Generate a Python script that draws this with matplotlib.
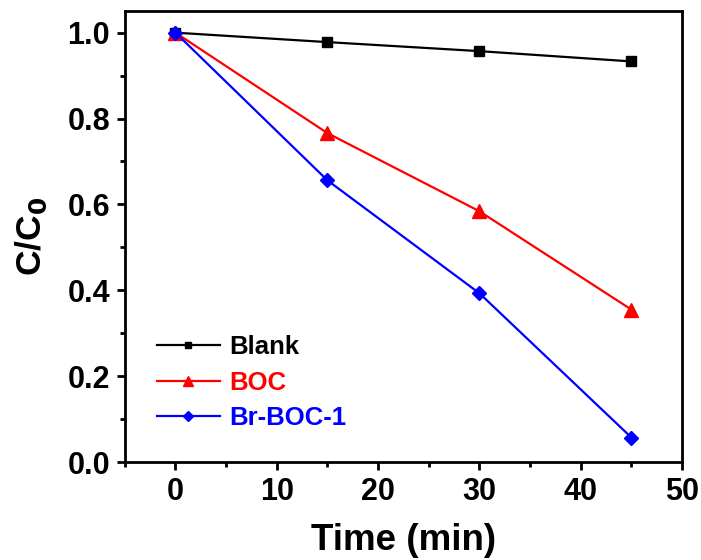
import numpy as np
import matplotlib.pyplot as plt

plt.rcParams['font.family'] = ['Liberation Sans', 'DejaVu Sans']
plt.rcParams['font.weight'] = 'bold'

# degradation data
czas = [0, 15, 30, 45]
blank = [1.0, 0.978, 0.957, 0.933]
boc = [1.0, 0.766, 0.584, 0.355]
br_boc = [1.0, 0.656, 0.393, 0.057]

fig = plt.figure(figsize=(7.01, 5.6), dpi=100)
ax = fig.add_axes([0.178, 0.175, 0.795, 0.805])

ax.plot(czas, blank, color='black', lw=1.6, marker='s', ms=7, label='Blank')
ax.plot(czas, boc, color='red', lw=1.6, marker='^', ms=10, label='BOC')
ax.plot(czas, br_boc, color='blue', lw=1.6, marker='D', ms=7.5, label='Br-BOC-1')

ax.set_xlim(-5, 50)
ax.set_ylim(0, 1.05)
ax.set_xticks(np.arange(0, 51, 10))
ax.set_xticks(np.arange(-5, 51, 5), minor=True)
ax.set_yticks(np.arange(0, 1.01, 0.2))
ax.set_yticks(np.arange(0, 1.01, 0.1), minor=True)
ax.yaxis.set_major_formatter(plt.FormatStrFormatter('%.1f'))

for s in ax.spines.values():
    s.set_linewidth(2)
ax.tick_params(which='major', direction='out', length=5.5, width=2,
               labelsize=22, pad=5)
ax.tick_params(which='minor', direction='out', length=3.5, width=2)
for t in ax.get_xticklabels() + ax.get_yticklabels():
    t.set_fontweight('bold')

ax.set_xlabel('Time (min)', fontsize=26.5, fontweight='bold', labelpad=12)
ax.set_ylabel('C/C$_\\mathbf{0}$', fontsize=25.5, fontweight='bold', labelpad=13)

leg = ax.legend(loc='lower left', bbox_to_anchor=(0.016, 0.02), frameon=False,
                fontsize=18.5, handlelength=2.45, handletextpad=0.35,
                labelspacing=0.44, labelcolor='linecolor', markerscale=0.7)
for t in leg.get_texts():
    t.set_fontweight('bold')

plt.savefig('out.png', dpi=100)
